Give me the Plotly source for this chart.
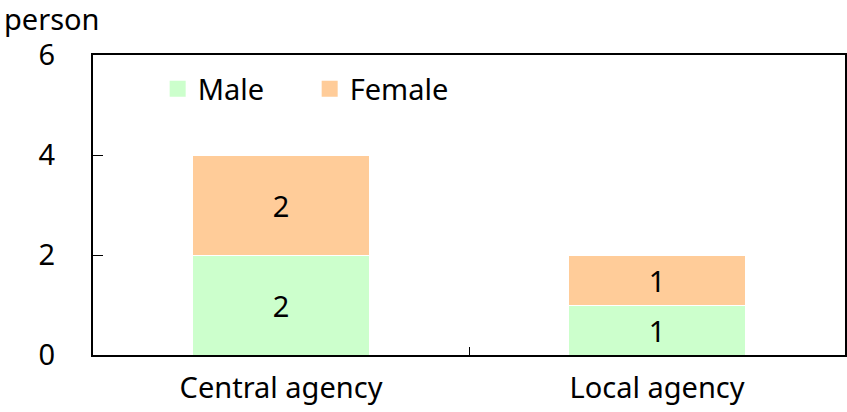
import plotly.graph_objects as go

categories = ["Central agency", "Local agency"]
male = [2, 1]
female = [2, 1]
y_ticks = [0, 2, 4, 6]

FONT = "Noto Sans"
SIZE = 29
MALE_COLOR = "#CCFFCC"
FEMALE_COLOR = "#FFCC99"

series = [("Male", male, MALE_COLOR), ("Female", female, FEMALE_COLOR)]

fig = go.Figure()
for name, vals, color in series:
    fig.add_trace(go.Bar(
        name=name, x=categories, y=vals, showlegend=False,
        marker=dict(color=color, line=dict(color="white", width=1)),
        text=[str(v) for v in vals], textposition="inside",
        insidetextanchor="middle", textangle=0,
        textfont=dict(family=FONT, size=SIZE, color="black"),
    ))
# Legend entries with larger square swatches
for name, vals, color in series:
    fig.add_trace(go.Scatter(
        name=name, x=[None], y=[None], mode="markers",
        marker=dict(symbol="square", size=16, color=color),
        showlegend=True,
    ))

fig.update_layout(
    barmode="stack",
    bargap=0.528,
    width=847, height=412,
    margin=dict(l=93, r=0, t=55, b=57),
    paper_bgcolor="white", plot_bgcolor="white",
    font=dict(family=FONT, size=SIZE, color="black"),
    showlegend=True,
    legend=dict(
        orientation="h", x=0.086, y=0.972, xanchor="left", yanchor="top",
        font=dict(family=FONT, size=SIZE, color="black"),
        bgcolor="rgba(0,0,0,0)", traceorder="normal",
        itemwidth=30, entrywidth=107, entrywidthmode="pixels",
    ),
    xaxis=dict(
        showline=True, linecolor="black", linewidth=2, mirror=True,
        ticks="inside", tickson="boundaries", ticklen=8, tickcolor="black",
        tickwidth=1, showgrid=False, ticklabelstandoff=6,
        tickfont=dict(family=FONT, size=SIZE, color="black"),
    ),
    yaxis=dict(
        range=[0, 6], tickvals=y_ticks, showline=True, linecolor="black",
        linewidth=2, mirror=True, ticks="inside", ticklen=10, tickcolor="black",
        showgrid=False, zeroline=False, ticklabelstandoff=30,
        tickfont=dict(family=FONT, size=SIZE, color="black"),
    ),
    annotations=[dict(
        text="person", xref="paper", yref="paper", x=-0.121, y=1.12,
        xanchor="left", yanchor="middle", showarrow=False,
        font=dict(family=FONT, size=SIZE, color="black"),
    )],
)

fig.write_html("out.html")
